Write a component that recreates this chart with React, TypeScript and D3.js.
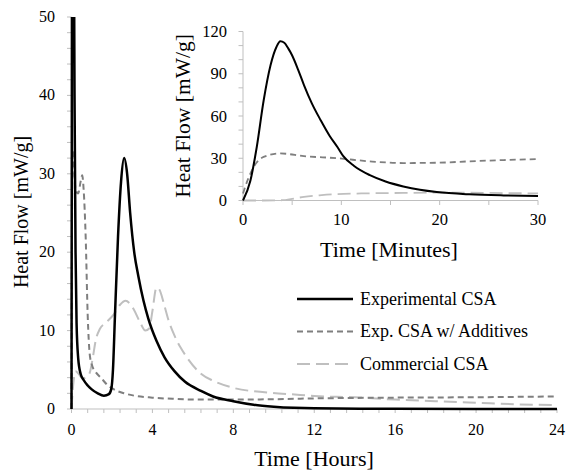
import React, { useEffect, useRef } from 'react';
import * as d3 from 'd3';

// main chart (hours)
const expHours = [0, 0.03, 0.06, 0.1, 0.15, 0.2, 0.25, 0.33, 0.45, 0.6, 0.8, 1.0, 1.3, 1.6, 1.85, 1.97, 2.05, 2.15, 2.3, 2.45, 2.6, 2.75, 2.9, 3.1, 3.3, 3.56, 3.8, 4.2, 4.6, 5.1, 5.6, 6.4, 7, 8, 9, 10, 11, 12, 16, 24];
const expValues = [0, 70, 113, 72, 40, 20, 11, 6.5, 4.5, 3.7, 3.0, 2.5, 2.0, 1.7, 1.9, 2.6, 5, 12, 22, 29, 32, 30, 25, 20, 17, 13.8, 11.5, 8.7, 6.6, 4.8, 3.5, 2.3, 1.6, 1.0, 0.55, 0.3, 0.15, 0.08, 0.02, 0];

const addHours = [0, 0.02, 0.05, 0.1, 0.2, 0.33, 0.45, 0.53, 0.6, 0.7, 0.8, 0.9, 1.0, 1.2, 1.45, 1.8, 2.1, 2.6, 3.1, 4, 5, 6.4, 8, 10, 12, 16, 20, 24];
const addValues = [0, 20, 33, 32, 28, 27.5, 29, 29.8, 28, 22, 12, 7, 5.7, 4.7, 4.0, 3.0, 2.5, 2.0, 1.7, 1.45, 1.3, 1.2, 1.2, 1.25, 1.35, 1.45, 1.5, 1.6];

const comHours = [0, 0.05, 0.1, 0.2, 0.35, 0.55, 0.75, 0.9, 1.05, 1.2, 1.4, 1.7, 2.1, 2.4, 2.67, 2.9, 3.1, 3.4, 3.65, 3.85, 4.0, 4.2, 4.35, 4.56, 4.8, 5.05, 5.4, 5.7, 6.4, 7, 8, 9.7, 11.3, 12, 14, 16, 18, 20, 22, 24];
const comValues = [0, 2, 3.5, 4.8, 4.5, 3.9, 4.1, 4.6, 6.5, 8.8, 10.2, 11, 12.1, 13.3, 13.8, 13.4, 12.6, 11, 10, 10.3, 12.5, 15.5, 15.2, 13.5, 11.3, 9.6, 7.8, 6.6, 4.5, 3.6, 2.7, 2.1, 1.8, 1.65, 1.5, 1.2, 1.0, 0.8, 0.6, 0.5];

// inset (minutes)
const expMin = [0, 0.75, 1.4, 2.1, 2.8, 3.4, 3.8, 4.2, 4.6, 5, 5.6, 6.2, 7, 7.9, 8.8, 9.6, 10.2, 11.3, 12.9, 14.5, 16.3, 18, 19.7, 23, 26.5, 30];
const expMinValues = [0, 14, 38, 71, 96, 109, 113, 112, 108, 103, 93, 82, 69, 57, 46, 38, 31.5, 24.5, 18, 13.5, 10, 7.6, 6, 4.4, 3.6, 3.2];

const addMin = [0, 0.5, 1.1, 2.1, 3.8, 6.2, 9.6, 12.9, 16.3, 19.7, 23, 26.5, 30];
const addMinValues = [5, 15, 24, 31, 33.4, 31.5, 30, 27.8, 26.6, 26.8, 27.8, 28.7, 29.4];

const comMin = [0, 2, 4, 5, 6.2, 8, 9.6, 12.9, 16.3, 20, 25, 30];
const comMinValues = [0, 0, 0.2, 1.2, 2.6, 3.8, 4.5, 5.1, 5.4, 5.6, 5.4, 5.0];

const mainYTicks = [0, 10, 20, 30, 40, 50];
const mainXTicks = [0, 4, 8, 12, 16, 20, 24];
const insetYTicks = [0, 30, 60, 90, 120];
const insetXTicks = [0, 10, 20, 30];

const legendLabels = ['Experimental CSA', 'Exp. CSA w/ Additives', 'Commercial CSA'];

const FONT = "'Liberation Serif', 'Times New Roman', serif";
const styles = [
  { stroke: '#000', width: 2.5, dash: '' },
  { stroke: '#7f7f7f', width: 2, dash: '6,4' },
  { stroke: '#bfbfbf', width: 2, dash: '13,6' },
];

const App: React.FC = () => {
  const svgRef = useRef<SVGSVGElement>(null);

  useEffect(() => {
    const svg = d3.select(svgRef.current);
    svg.selectAll('*').remove();

    const zip = (xs: number[], ys: number[]) => xs.map((x, i) => [x, ys[i]] as [number, number]);

    // ---------- main chart ----------
    const x = d3.scaleLinear().domain([0, 24]).range([71.5, 557]);
    const y = d3.scaleLinear().domain([0, 50]).range([409, 17]);

    svg.append('defs').append('clipPath').attr('id', 'mainClip')
      .append('rect').attr('x', 60).attr('y', 17).attr('width', 510).attr('height', 400);

    const g = svg.append('g');

    // minor ticks
    g.selectAll('.ytk').data(d3.range(0, 51, 2)).enter().append('line')
      .attr('x1', 67).attr('x2', 71.5).attr('y1', (d) => y(d)).attr('y2', (d) => y(d))
      .attr('stroke', '#bfbfbf');
    g.selectAll('.xtk').data(d3.range(0, 24.01, 0.8)).enter().append('line')
      .attr('x1', (d) => x(d)).attr('x2', (d) => x(d)).attr('y1', 409).attr('y2', 413)
      .attr('stroke', '#bfbfbf');
    g.append('line').attr('x1', 71.5).attr('x2', 71.5).attr('y1', 17).attr('y2', 409).attr('stroke', '#bfbfbf');
    g.append('line').attr('x1', 71.5).attr('x2', 557).attr('y1', 409).attr('y2', 409).attr('stroke', '#bfbfbf');

    g.selectAll('.ylab').data(mainYTicks).enter().append('text')
      .attr('x', 55).attr('y', (d) => y(d) + 5).attr('text-anchor', 'end')
      .attr('font-family', FONT).attr('font-size', 16).text((d) => d);
    g.selectAll('.xlab').data(mainXTicks).enter().append('text')
      .attr('x', (d) => x(d)).attr('y', 435).attr('text-anchor', 'middle')
      .attr('font-family', FONT).attr('font-size', 16).text((d) => d);

    g.append('text').attr('transform', 'translate(28,212) rotate(-90)').attr('text-anchor', 'middle')
      .attr('font-family', FONT).attr('font-size', 20).text('Heat Flow [mW/g]');
    g.append('text').attr('x', 314).attr('y', 466).attr('text-anchor', 'middle')
      .attr('font-family', FONT).attr('font-size', 22).text('Time [Hours]');

    const line = d3.line<[number, number]>().x((d) => x(d[0])).y((d) => y(d[1])).curve(d3.curveMonotoneX);
    const mainSeries = [zip(comHours, comValues), zip(addHours, addValues), zip(expHours, expValues)];
    const order = [2, 1, 0];
    mainSeries.forEach((s, i) => {
      const st = styles[order[i]];
      g.append('path').attr('clip-path', 'url(#mainClip)').attr('d', line(s) as string)
        .attr('fill', 'none').attr('stroke', st.stroke).attr('stroke-width', st.width)
        .attr('stroke-dasharray', st.dash);
    });

    // legend
    legendLabels.forEach((lab, i) => {
      const ly = 299 + i * 32.5;
      const st = styles[i];
      g.append('line').attr('x1', 297).attr('x2', 353).attr('y1', ly).attr('y2', ly)
        .attr('stroke', st.stroke).attr('stroke-width', st.width).attr('stroke-dasharray', st.dash);
      g.append('text').attr('x', 360).attr('y', ly + 5.5).attr('font-family', FONT)
        .attr('font-size', 18).text(lab);
    });

    // ---------- inset ----------
    const xi = d3.scaleLinear().domain([0, 30]).range([243, 538]);
    const yi = d3.scaleLinear().domain([0, 120]).range([200.5, 31.5]);
    const gi = svg.append('g');

    gi.selectAll('.iytk').data(d3.range(0, 121, 10)).enter().append('line')
      .attr('x1', 238.5).attr('x2', 243).attr('y1', (d) => yi(d)).attr('y2', (d) => yi(d))
      .attr('stroke', '#bfbfbf');
    gi.selectAll('.ixtk').data(d3.range(0, 31, 5)).enter().append('line')
      .attr('x1', (d) => xi(d)).attr('x2', (d) => xi(d)).attr('y1', 200.5).attr('y2', 205)
      .attr('stroke', '#bfbfbf');
    gi.append('line').attr('x1', 243).attr('x2', 243).attr('y1', 31.5).attr('y2', 200.5).attr('stroke', '#bfbfbf');
    gi.append('line').attr('x1', 243).attr('x2', 538).attr('y1', 200.5).attr('y2', 200.5).attr('stroke', '#bfbfbf');

    gi.selectAll('.iylab').data(insetYTicks).enter().append('text')
      .attr('x', 227).attr('y', (d) => yi(d) + 5.5).attr('text-anchor', 'end')
      .attr('font-family', FONT).attr('font-size', 16.5).text((d) => d);
    gi.selectAll('.ixlab').data(insetXTicks).enter().append('text')
      .attr('x', (d) => xi(d)).attr('y', 225).attr('text-anchor', 'middle')
      .attr('font-family', FONT).attr('font-size', 16.5).text((d) => d);

    gi.append('text').attr('transform', 'translate(190,116) rotate(-90)').attr('text-anchor', 'middle')
      .attr('font-family', FONT).attr('font-size', 21.5).text('Heat Flow [mW/g]');
    gi.append('text').attr('x', 389).attr('y', 257).attr('text-anchor', 'middle')
      .attr('font-family', FONT).attr('font-size', 22).text('Time [Minutes]');

    const lineI = d3.line<[number, number]>().x((d) => xi(d[0])).y((d) => yi(d[1])).curve(d3.curveMonotoneX);
    const insetSeries = [zip(comMin, comMinValues), zip(addMin, addMinValues), zip(expMin, expMinValues)];
    insetSeries.forEach((s, i) => {
      const st = styles[order[i]];
      gi.append('path').attr('d', lineI(s) as string)
        .attr('fill', 'none').attr('stroke', st.stroke).attr('stroke-width', order[i] === 0 ? 2 : 1.8)
        .attr('stroke-dasharray', st.dash);
    });
  }, []);

  return (
    <svg ref={svgRef} width={569} height={471}
      style={{ position: 'absolute', left: 0, top: 0, background: '#fff' }} />
  );
};

export default App;
